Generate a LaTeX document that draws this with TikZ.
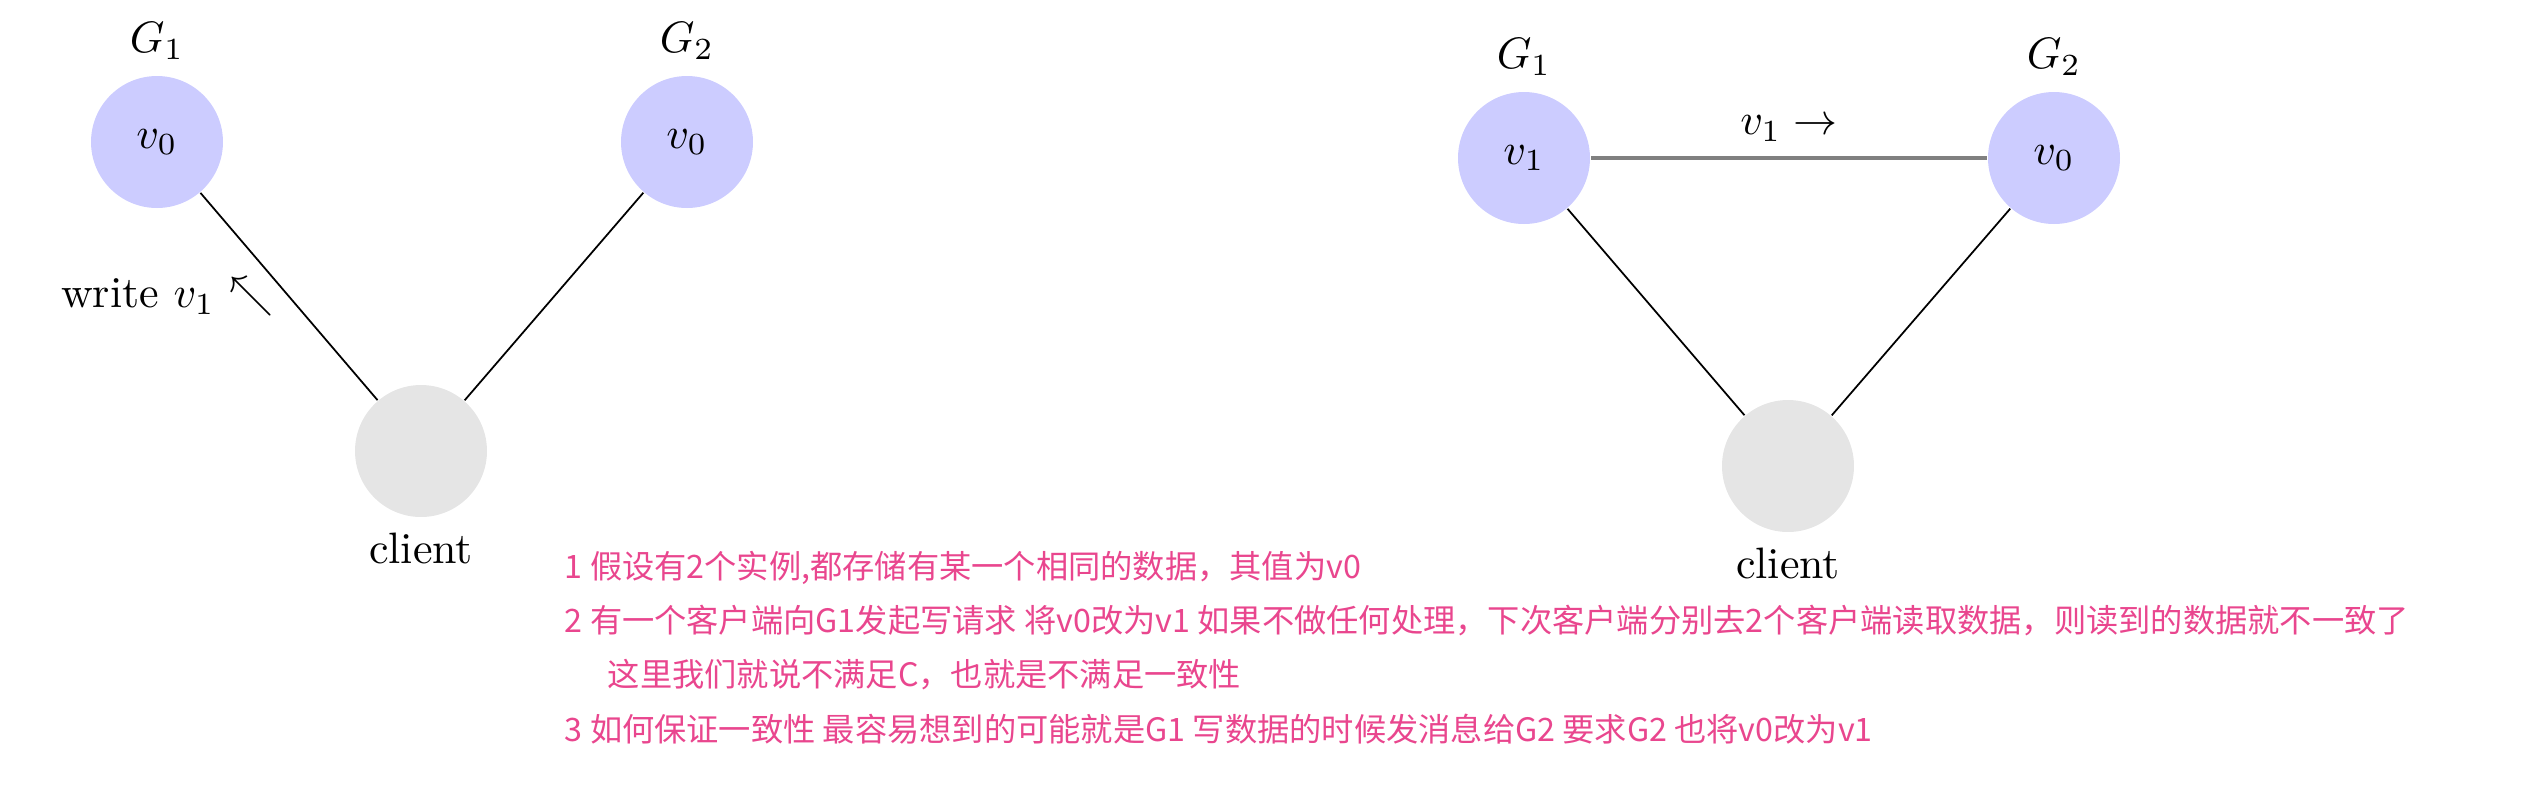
\documentclass[tikz,border=0pt]{standalone}
\usepackage{fontspec}
\newfontfamily\cjk{Noto Sans CJK SC}
\usepackage{tikz}
\usetikzlibrary{arrows}
\definecolor{notepink}{RGB}{233,70,142}
\tikzset{
  server/.style={circle, fill=blue!20, minimum size=30pt, inner sep=0pt},
  clientnode/.style={circle, fill=gray!20, minimum size=30pt, inner sep=0pt},
  note/.style={anchor=west, inner sep=0pt, text=notepink, font=\cjk\fontsize{7.33pt}{8pt}\selectfont},
}

\begin{document}
\begin{tikzpicture}[x=0.2273pt, y=-0.2273pt]
\useasboundingbox (0,0) rectangle (2542,808);
%
\node[server, label=above:$G_1$](g1a) at (157,142) {$v_0$};
\node[server, label=above:$G_2$](g2a) at (687,142) {$v_0$};
\node[clientnode, label=below:client](ca) at (421,451) {};
\draw(g1a) -- (ca) node[midway, left] {write $v_1$ $\nwarrow$};
\draw(g2a) -- (ca);
%
\node[server, label=above:$G_1$](g1b) at (1524,158) {$v_1$};
\node[server, label=above:$G_2$](g2b) at (2054,158) {$v_0$};
\node[clientnode, label=below:client](cb) at (1788,466) {};
\draw[draw=gray, line width=0.8pt](g1b) -- (g2b) node[midway, above] {$v_1 \rightarrow$};
\draw(g1b) -- (cb);
\draw(g2b) -- (cb);
%
\node[note](n1) at (564,568) {1 假设有2个实例,都存储有某一个相同的数据，其值为v0};
\node[note](n2) at (564,621) {2 有一个客户端向G1发起写请求 将v0改为v1 如果不做任何处理，下次客户端分别去2个客户端读取数据，则读到的数据就不一致了};
\node[note](n3) at (607,675) {这里我们就说不满足C，也就是不满足一致性};
\node[note](n4) at (564,729) {3 如何保证一致性 最容易想到的可能就是G1 写数据的时候发消息给G2 要求G2 也将v0改为v1};
\end{tikzpicture}
\end{document}
